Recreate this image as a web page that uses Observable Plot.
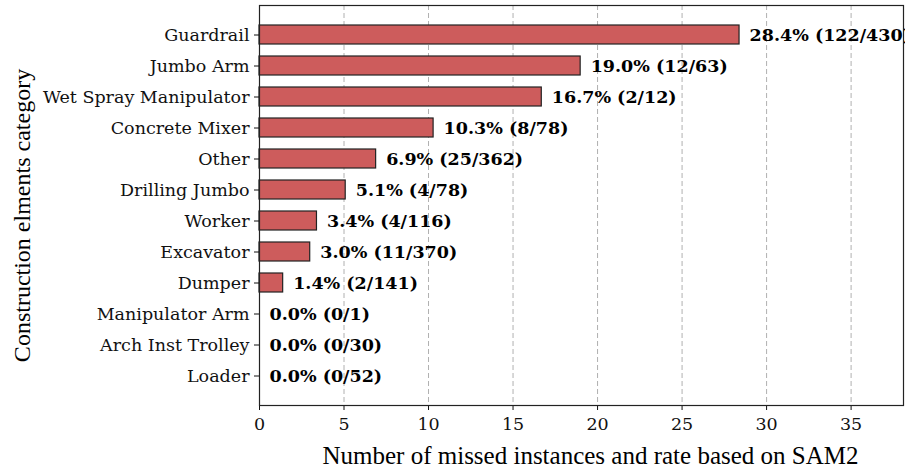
<!DOCTYPE html>
<html><head><meta charset="utf-8">
<script src="https://cdn.jsdelivr.net/npm/d3@7"></script>
<script src="https://cdn.jsdelivr.net/npm/@observablehq/plot@0.6"></script>
<style>body{margin:0;background:#fff}</style>
</head><body><div id="chart"></div>
<script>
const categories = ["Guardrail","Jumbo Arm","Wet Spray Manipulator","Concrete Mixer","Other","Drilling Jumbo","Worker","Excavator","Dumper","Manipulator Arm","Arch Inst Trolley","Loader"];
const rates = [28.4,19.0,16.7,10.3,6.9,5.1,3.4,3.0,1.4,0.0,0.0,0.0];
const missed = [122,12,2,8,25,4,4,11,2,0,0,0];
const totals = [430,63,12,78,362,78,116,370,141,1,30,52];
const xTicks = [0,5,10,15,20,25,30,35];

const data = categories.map((c,i)=>({cat:c, rate:rates[i], label:`${rates[i].toFixed(1)}% (${missed[i]}/${totals[i]})`}));

const chart = Plot.plot({
  width:905, height:470,
  marginLeft:259, marginRight:2, marginTop:5, marginBottom:65,
  style:{fontFamily:"DejaVu Serif", fontSize:"17.5px", color:"#111", background:"#fff"},
  x:{domain:[0,38.1], ticks:xTicks, label:null},
  y:{domain:categories, paddingInner:0.4, paddingOuter:0.6, label:null},
  marks:[
    Plot.gridX(xTicks.filter(d=>d>0), {stroke:"#b0b0b0", strokeOpacity:1, strokeDasharray:"5,3", strokeWidth:1}),
    Plot.barX(data,{x:"rate", y:"cat", fill:"#cd5c5c", stroke:"#222", strokeWidth:1.2}),
    Plot.text(data,{x:"rate", y:"cat", text:"label", textAnchor:"start", dx:10, fontWeight:"bold", fontSize:17.5, fill:"#000"}),
    Plot.axisX({ticks:xTicks, tickSize:5, tickPadding:7, fontSize:17.5, label:null, tickFormat:d=>String(d)}),
    Plot.axisY({tickSize:5, tickPadding:5, fontSize:17.5, label:null}),
    Plot.frame({stroke:"#222", strokeWidth:1.2}),
    Plot.text(["Number of missed instances and rate based on SAM2"],{frameAnchor:"bottom", text:d=>d, dy:50, dx:9, textAnchor:"middle", lineAnchor:"middle", fontFamily:"Liberation Serif", fontSize:25, fill:"#000"}),
    Plot.text(["Construction elments category"],{frameAnchor:"left", text:d=>d, dx:-237, dy:10, rotate:-90, textAnchor:"middle", lineAnchor:"middle", fontFamily:"Liberation Serif", fontSize:24, fill:"#000"})
  ]
});
document.getElementById("chart").appendChild(chart);
</script></body></html>
